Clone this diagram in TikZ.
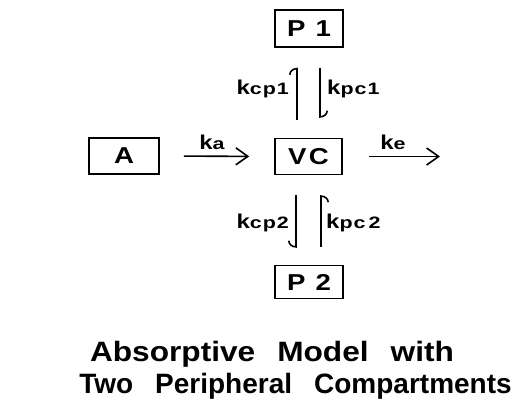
\documentclass[tikz,border=0pt]{standalone}
\usepackage{fontspec}
\setmainfont{Liberation Sans}
\usetikzlibrary{arrows.meta}
% rate constant: bold k followed by a smaller, wide index on the same baseline
\newcommand{\rate}[1]{{\fontsize{20}{20}\selectfont\bfseries\addfontfeatures{FakeStretch=1.2}k}%
  {\fontsize{16.5}{16.5}\selectfont\bfseries\addfontfeatures{FakeStretch=1.3,LetterSpace=6}#1}}
\begin{document}
\begin{tikzpicture}[x=1pt,y=1pt,
  comp/.style={draw,line width=1.6pt,minimum width=68pt,minimum height=36pt,
    inner sep=0pt,font=\fontsize{23}{23}\selectfont\bfseries\addfontfeatures{FakeStretch=1.2,LetterSpace=10}},
  flow/.style={line width=1.6pt,-{Straight Barb[length=12pt,width=17pt,line width=1.6pt]}},
  hup/.style={line width=1.6pt,-{Arc Barb[harpoon,length=7pt,width=16pt,line width=1.6pt]}},
  hsw/.style={line width=1.6pt,-{Arc Barb[harpoon,swap,length=7pt,width=16pt,line width=1.6pt]}},
  klab/.style={inner sep=0pt},
  title/.style={inner sep=0pt,anchor=base,font=\fontsize{28}{28}\selectfont\bfseries}]
\useasboundingbox (0,0) rectangle (524,405);

% compartments
\node[comp,minimum width=70pt] (A) at (124,249) {A};
\node[comp,minimum width=67pt] (VC) at (308.5,248.5) {VC};
\node[comp,minimum height=37pt] (P1) at (309,376.5) {P 1};
\node[comp,minimum height=33pt] (P2) at (309,123) {P 2};
\coordinate (out) at (440,248.5);

% absorption and elimination
\draw[flow,shorten <=24pt,shorten >=25pt] (A.east) -- (VC.west);
\draw[flow,shorten <=26pt] (VC.east) -- (out);
\node[klab,anchor=base] (ka) at (212,256) {\rate{a}};
\node[klab,anchor=base] (ke) at (393,256) {\rate{e}};

% exchange with P1
\draw[hup,shorten <=18pt,shorten >=20pt] ([xshift=-11.5pt]VC.north) -- ([xshift=-12pt]P1.south);
\draw[hup,shorten <=20pt,shorten >=20pt] ([xshift=11pt]P1.south) -- ([xshift=11.5pt]VC.north);
\node[klab,anchor=base east] (kcp1) at (289,310) {\rate{cp1}};
\node[klab,anchor=base west] (kpc1) at (327,310) {\rate{pc1}};

% exchange with P2
\draw[hsw,shorten <=20pt,shorten >=17pt] ([xshift=-12.5pt]VC.south) -- ([xshift=-13pt]P2.north);
\draw[hsw,shorten <=18pt,shorten >=20pt] ([xshift=12pt]P2.north) -- ([xshift=12.5pt]VC.south);
\node[klab,anchor=base east] (kcp2) at (289,177) {\rate{cp2}};
\node[klab,anchor=base west] (kpc2) at (326,177) {\rate{pc\hspace{3pt}2}};

% caption
\node[title,font=\fontsize{28}{28}\selectfont\bfseries\addfontfeatures{FakeStretch=1.13}] (t1) at (272,44)
  {Absorptive\hspace{22pt}Model\hspace{22pt}with};
\node[title] (t2) at (295.5,12) {Two\hspace{22pt}Peripheral\hspace{22pt}Compartments};
\end{tikzpicture}
\end{document}
